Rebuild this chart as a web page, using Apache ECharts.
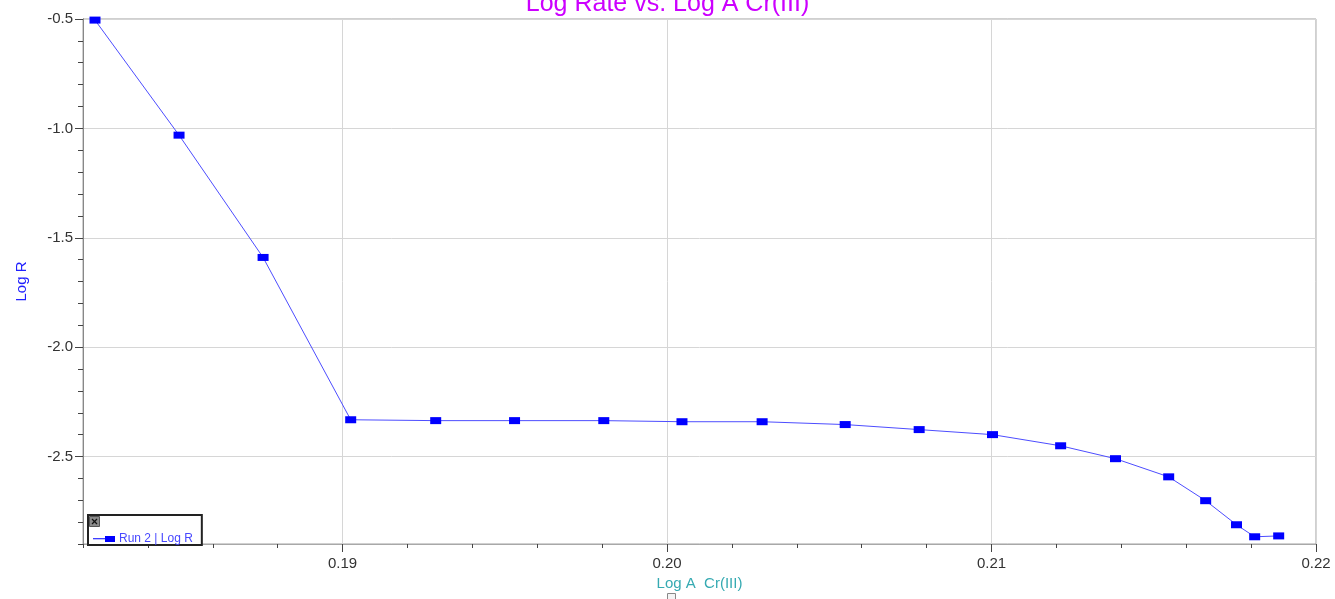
<!DOCTYPE html>
<html>
<head>
<meta charset="utf-8">
<script src="https://cdn.jsdelivr.net/npm/echarts@6/dist/echarts.min.js"></script>
<style>
html,body{margin:0;padding:0;background:#fff;}
#chart{width:1335px;height:599px;}
</style>
</head>
<body>
<div id="chart"></div>
<script>
// ---- data ----
const logA = [0.18237, 0.18496, 0.18755, 0.19025, 0.19287, 0.19530, 0.19805, 0.20046, 0.20293, 0.20549, 0.20777, 0.21003, 0.21213, 0.21382, 0.21546, 0.21660, 0.21755, 0.21811, 0.21885];
const logR = [-0.505, -1.031, -1.590, -2.332, -2.336, -2.336, -2.336, -2.341, -2.341, -2.354, -2.377, -2.400, -2.451, -2.510, -2.593, -2.702, -2.812, -2.867, -2.863];
const seriesName = 'Run 2 | Log R';
const xMajorTicks = [0.19, 0.20, 0.21, 0.22];
const xMinorTicks = [0.182, 0.184, 0.186, 0.188, 0.19, 0.192, 0.194, 0.196, 0.198, 0.20, 0.202, 0.204, 0.206, 0.208, 0.21, 0.212, 0.214, 0.216, 0.218, 0.22];
const yMajorTicks = [-2.5, -2.0, -1.5, -1.0, -0.5];
const yMinorTicks = [-2.9, -2.8, -2.7, -2.6, -2.5, -2.4, -2.3, -2.2, -2.1, -2.0, -1.9, -1.8, -1.7, -1.6, -1.5, -1.4, -1.3, -1.2, -1.1, -1.0, -0.9, -0.8, -0.7, -0.6, -0.5];

const chart = echarts.init(document.getElementById('chart'), null, {renderer: 'canvas'});
const FONT = '"Liberation Sans", Arial, sans-serif';
const xRange = {min: 0.182, max: 0.22};
const yRange = {min: -2.9, max: -0.5};

const option = {
  animation: false,
  backgroundColor: '#ffffff',
  title: {
    text: 'Log Rate vs. Log A Cr(III)',
    left: 'center',
    top: -8,
    padding: 0,
    textStyle: {color: '#CC00FF', fontSize: 25, fontWeight: 'normal', fontFamily: FONT}
  },
  grid: {
    left: 83, right: 19, top: 19, bottom: 55,
    show: true, borderColor: '#a0a0a0', borderWidth: 1, backgroundColor: 'transparent'
  },
  legend: {
    left: 88, top: 515,
    orient: 'horizontal',
    backgroundColor: '#ffffff',
    borderColor: '#222222',
    borderWidth: 2,
    padding: [18, 9, 0, 5],
    itemWidth: 22, itemHeight: 7, itemGap: 4,
    icon: 'path://M0,4.3 L12,4.3 L12,5.3 L0,5.3 Z M12,2 L22,2 L22,8 L12,8 Z',
    textStyle: {color: '#4848ff', fontSize: 12, fontFamily: FONT, padding: [0, 0, 0, -1]},
    data: [seriesName]
  },
  xAxis: [
    {
      type: 'value', ...xRange, position: 'bottom',
      axisLine: {show: true, lineStyle: {color: '#a8a8a8', width: 1}},
      axisTick: {show: true, customValues: xMinorTicks, length: 4, lineStyle: {color: '#444'}},
      axisLabel: {show: false},
      splitLine: {show: false}
    },
    {
      type: 'value', ...xRange, position: 'bottom',
      name: 'Log A  Cr(III)', nameLocation: 'middle', nameGap: 32,
      nameTextStyle: {color: '#36aab2', fontSize: 15, fontFamily: FONT},
      axisLine: {show: true, lineStyle: {color: '#a8a8a8', width: 1}},
      axisTick: {show: true, customValues: xMajorTicks, length: 8, lineStyle: {color: '#444'}},
      axisLabel: {show: true, customValues: xMajorTicks, margin: 12, color: '#333', fontSize: 15, fontFamily: FONT,
        formatter: v => v.toFixed(2)},
      splitLine: {show: true, lineStyle: {color: '#d6d6d6', width: 1}}
    }
  ],
  yAxis: [
    {
      type: 'value', ...yRange, position: 'left',
      axisLine: {show: true, lineStyle: {color: '#888', width: 1}},
      axisTick: {show: true, customValues: yMinorTicks, length: 5, lineStyle: {color: '#444'}},
      axisLabel: {show: false},
      splitLine: {show: false}
    },
    {
      type: 'value', ...yRange, position: 'left',
      name: 'Log R', nameLocation: 'middle', nameGap: 54, nameRotate: 90,
      nameTextStyle: {color: '#2020ff', fontSize: 15, fontFamily: FONT},
      axisLine: {show: true, lineStyle: {color: '#888', width: 1}},
      axisTick: {show: true, customValues: yMajorTicks, length: 8, lineStyle: {color: '#444'}},
      axisLabel: {show: true, customValues: yMajorTicks, margin: 10, color: '#333', fontSize: 15, fontFamily: FONT,
        formatter: v => v.toFixed(1)},
      splitLine: {show: true, lineStyle: {color: '#d6d6d6', width: 1}}
    }
  ],
  series: [{
    name: seriesName,
    type: 'line',
    xAxisIndex: 0, yAxisIndex: 0,
    data: logA.map((x, i) => [x, logR[i]]),
    symbol: 'rect',
    symbolSize: [11, 7],
    showAllSymbol: true,
    itemStyle: {color: '#0000ff'},
    lineStyle: {color: '#4d4dff', width: 1},
    z: 5
  }],
  graphic: {
    elements: [
      {type: 'rect', z: 100, shape: {x: 89.5, y: 516.5, width: 10, height: 10}, style: {fill: '#8a8a8a', stroke: '#555', lineWidth: 1}},
      {type: 'line', z: 101, shape: {x1: 92, y1: 519, x2: 97, y2: 524}, style: {stroke: '#111', lineWidth: 1.2}},
      {type: 'line', z: 101, shape: {x1: 97, y1: 519, x2: 92, y2: 524}, style: {stroke: '#111', lineWidth: 1.2}},
      {type: 'rect', z: 100, shape: {x: 667.5, y: 593.5, width: 8, height: 8}, style: {fill: '#f4f4f4', stroke: '#888', lineWidth: 1}}
    ]
  }
};
chart.setOption(option);
</script>
</body>
</html>
